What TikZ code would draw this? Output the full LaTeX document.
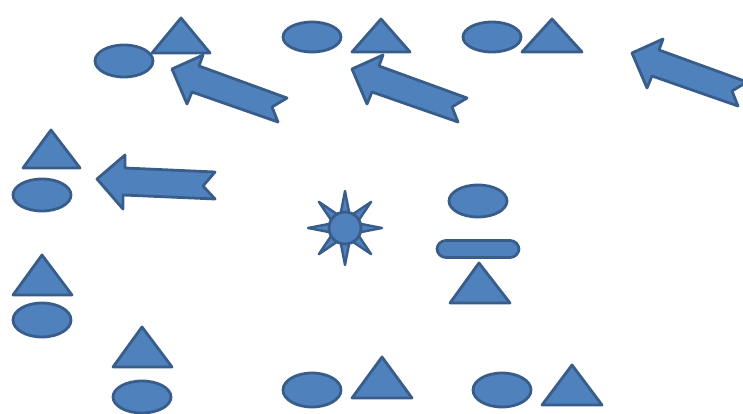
\documentclass[tikz,border=0pt]{standalone}
\usepackage{tikz}
\usetikzlibrary{shapes.geometric}
\definecolor{shapeblue}{RGB}{79, 129, 189}
\definecolor{shapeedge}{RGB}{56, 93, 138}

\begin{document}
\begin{tikzpicture}[
                x=1pt, y=-1pt,
                shp/.style={fill=shapeblue, draw=shapeedge, line width=2.8pt, line join=round},
                oval/.style={ellipse, shp, inner sep=0pt, minimum width=58pt, minimum height=32pt},
                bar/.style={rectangle, shp, rounded corners=9pt, inner sep=0pt, minimum width=82pt, minimum height=17pt}
            ]
                \useasboundingbox (0,0) rectangle (743,414);

                % ovals
                \node [oval] (ovalA) at (124,61) {};
                \node [oval, minimum height=30pt] (ovalB) at (312,37) {};
                \node [oval, minimum height=30pt] (ovalC) at (492,37) {};
                \node [oval] (ovalD) at (42,195) {};
                \node [oval, minimum height=34pt] (ovalE) at (42,320) {};
                \node [oval] (ovalF) at (142,397) {};
                \node [oval, minimum height=34pt] (ovalG) at (312,390) {};
                \node [oval, minimum height=34pt] (ovalH) at (502,390) {};
                \node [oval] (ovalI) at (478,201) {};
                \node [bar] (barI) at (478,249) {};

                % triangles
                \filldraw [shp] (152,53) -- (181,18) -- (210,53) -- cycle;
                \filldraw [shp] (352,52) -- (381,19) -- (410,52) -- cycle;
                \filldraw [shp] (522,52) -- (552,19) -- (582,52) -- cycle;
                \filldraw [shp] (23,168) -- (51,130) -- (80,168) -- cycle;
                \filldraw [shp] (13,295) -- (42,255) -- (72,295) -- cycle;
                \filldraw [shp] (113,367) -- (142,327) -- (172,367) -- cycle;
                \filldraw [shp] (352,398) -- (382,357) -- (412,398) -- cycle;
                \filldraw [shp] (542,405) -- (572,365) -- (602,405) -- cycle;
                \filldraw [shp] (450,303) -- (479,263) -- (510,303) -- cycle;

                % notched block arrows
                \foreach \dx/\dy in {0/0, 180/0, 460/-16}
                    \filldraw [shp, shift={(\dx,\dy)}] (172,69) -- (203,55) -- (199,66) -- (287,98)
                        -- (272,107) -- (278,122) -- (192,92) -- (187,104) -- cycle;
                \filldraw [shp] (97,179) -- (125,155) -- (125,168) -- (215,172)
                    -- (203,186) -- (215,199) -- (123,195) -- (123,209) -- cycle;

                % sun
                \foreach \a in {0,45,...,315}
                    \filldraw [shp, line width=2.4pt, shift={(345,228)}] (\a:37) -- (\a+17:15) -- (\a-17:15) -- cycle;
                \node [circle, shp, inner sep=0pt, minimum size=32pt] (sunCore) at (345,228) {};
            \end{tikzpicture}
\end{document}
